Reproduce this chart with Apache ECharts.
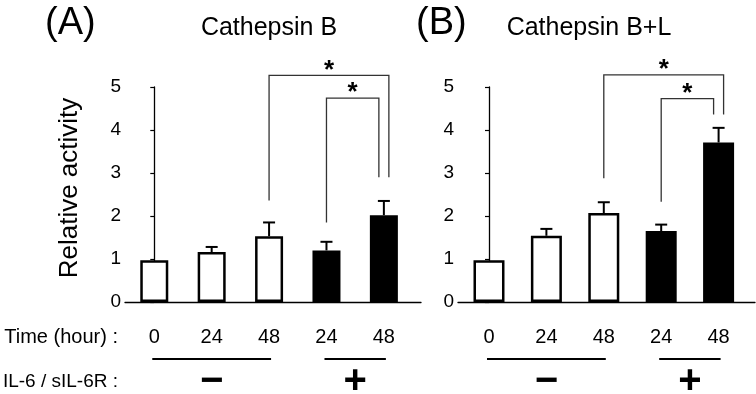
<!DOCTYPE html>
<html><head><meta charset="utf-8">
<script src="https://cdn.jsdelivr.net/npm/echarts@6/dist/echarts.min.js"></script>
<style>html,body{margin:0;padding:0;background:#fff}#c{width:756px;height:394px}</style>
</head><body><div id="c"></div>
<script>
// ---------- data ----------
const timeLabels = ['0', '24', '48', '24', '48'];
const treatment  = ['−', '−', '−', '+', '+'];
const panelLetters = ['(A)', '(B)'];
const panelTitles  = ['Cathepsin B', 'Cathepsin B+L'];
const yAxisTitle = 'Relative activity';
const rowTitles = ['Time (hour) :', 'IL-6 / sIL-6R :'];

const meanA = [0.97, 1.16, 1.53, 1.20, 2.02];
const errA  = [0,    0.12, 0.32, 0.20, 0.33];
const meanB = [0.97, 1.54, 2.07, 1.65, 3.71];
const errB  = [0,    0.16, 0.25, 0.15, 0.34];

// significance brackets: [left bar, right bar, left foot, right foot, top]
const bracketsA = [[2, 4, 2.36, 2.90, 5.27], [3, 4, 1.85, 2.90, 4.74]];
const bracketsB = [[2, 4, 2.88, 4.36, 5.28], [3, 4, 2.33, 4.36, 4.73]];
const bracketMark = '*';

// ---------- layout / style ----------
const FONT = "'Liberation Sans', Arial, sans-serif";
const bracketRightShift = [5, -5];
const panels = [
  {mean: meanA, err: errA, brackets: bracketsA, left: 125, width: 296, xmin: -0.51, barW: 28},
  {mean: meanB, err: errB, brackets: bracketsB, left: 458, width: 297, xmin: -0.54, barW: 31}
];
const unitPx = 57.4;

function groups() {
  const g = [];
  treatment.forEach((t, i) => {
    if (g.length && g[g.length - 1][2] === t) g[g.length - 1][1] = i;
    else g.push([i, i, t]);
  });
  return g;
}

const grid = [], xAxis = [], yAxis = [], series = [];
panels.forEach((p, k) => {
  grid.push({left: p.left, top: 87, width: p.width, height: 215});
  xAxis.push({
    type: 'value', gridIndex: k, min: p.xmin, max: p.xmin + p.width / unitPx,
    axisLine: {show: true, lineStyle: {color: '#000', width: 1.3}},
    axisTick: {show: false}, axisLabel: {show: false}, splitLine: {show: false}
  });
  yAxis.push({
    type: 'value', gridIndex: k, min: 0, max: 5, interval: 1,
    axisLine: {show: true, lineStyle: {color: '#000', width: 1.3}},
    axisTick: {show: true, inside: false, length: 4, lineStyle: {color: '#000', width: 1.2}},
    axisLabel: {color: '#000', fontSize: 19, fontFamily: FONT, margin: 4},
    splitLine: {show: false}
  });
  series.push({
    type: 'bar', xAxisIndex: k, yAxisIndex: k, barWidth: p.barW, silent: true,
    data: p.mean.map((v, i) => ({
      value: [i, v],
      itemStyle: {color: treatment[i] === '+' ? '#000' : '#fff', borderColor: '#000', borderWidth: 2.5}
    }))
  });
  series.push({
    type: 'custom', xAxisIndex: k, yAxisIndex: k, silent: true, z: 5,
    data: p.mean.map((v, i) => [i, v, p.err[i]]),
    renderItem: (params, api) => {
      const x = api.value(0), m = api.value(1), e = api.value(2);
      if (!e) return null;
      const a = api.coord([x, m]), b = api.coord([x, m + e]);
      return {type: 'group', children: [
        {type: 'line', shape: {x1: a[0], y1: a[1], x2: b[0], y2: b[1]}, style: {stroke: '#000', lineWidth: 2}},
        {type: 'line', shape: {x1: b[0] - 6, y1: b[1], x2: b[0] + 6, y2: b[1]}, style: {stroke: '#000', lineWidth: 2}}
      ]};
    }
  });
  series.push({
    type: 'custom', xAxisIndex: k, yAxisIndex: k, silent: true, clip: false, z: 6,
    data: p.brackets,
    renderItem: (params, api) => {
      const l = api.value(0), r = api.value(1);
      const L = api.coord([l, api.value(2)]);
      const R = api.coord([r, api.value(3)]);
      const T = api.coord([l, api.value(4)])[1];
      const xr = R[0] + bracketRightShift[params.dataIndex];
      return {type: 'group', children: [
        {type: 'polyline', shape: {points: [[L[0], L[1]], [L[0], T], [xr, T], [xr, R[1]]]},
         style: {stroke: '#333', lineWidth: 1.3, fill: null}},
        {type: 'text', style: {x: (L[0] + xr) / 2, y: T - 5, text: bracketMark, fill: '#000',
          font: 'bold 26px ' + FONT, textAlign: 'center', textVerticalAlign: 'middle'}}
      ]};
    }
  });
  series.push({
    type: 'custom', xAxisIndex: k, yAxisIndex: k, silent: true, clip: false,
    data: timeLabels.map((t, i) => [i, 0]),
    renderItem: (params, api) => {
      const c = api.coord([api.value(0), 0]);
      return {type: 'text', style: {x: c[0], y: c[1] + 35, text: timeLabels[params.dataIndex], fill: '#000',
        font: '20px ' + FONT, textAlign: 'center', textVerticalAlign: 'middle'}};
    }
  });
  const gs = groups();
  series.push({
    type: 'custom', xAxisIndex: k, yAxisIndex: k, silent: true, clip: false,
    data: gs.map(g => [g[0], g[1]]),
    renderItem: (params, api) => {
      const a = api.coord([api.value(0), 0]), b = api.coord([api.value(1), 0]);
      const x1 = a[0] - 2, x2 = b[0] + 2, y = a[1] + 57;
      return {type: 'group', children: [
        {type: 'line', shape: {x1: x1, y1: y, x2: x2, y2: y}, style: {stroke: '#000', lineWidth: 2}},
        {type: 'text', style: {x: (x1 + x2) / 2, y: y + 23, text: gs[params.dataIndex][2], fill: '#000',
          font: 'bold 40px ' + FONT, textAlign: 'center', textVerticalAlign: 'middle'}}
      ]};
    }
  });
});

const graphic = [
  {type: 'text', left: 45, top: 5, style: {text: panelLetters[0], font: '38px ' + FONT, fill: '#000'}},
  {type: 'text', left: 416, top: 5, style: {text: panelLetters[1], font: '38px ' + FONT, fill: '#000'}},
  {type: 'text', x: 269, y: 28, style: {text: panelTitles[0], font: '25px ' + FONT, fill: '#000', textAlign: 'center', textVerticalAlign: 'middle'}},
  {type: 'text', x: 589, y: 28, style: {text: panelTitles[1], font: '25px ' + FONT, fill: '#000', textAlign: 'center', textVerticalAlign: 'middle'}},
  {type: 'text', x: 70, y: 188, rotation: Math.PI / 2, style: {text: yAxisTitle, font: '26px ' + FONT, fill: '#000', textAlign: 'center', textVerticalAlign: 'middle'}},
  {type: 'text', x: 118, y: 337, style: {text: rowTitles[0], font: '20px ' + FONT, fill: '#000', textAlign: 'right', textVerticalAlign: 'middle'}},
  {type: 'text', x: 118, y: 382, style: {text: rowTitles[1], font: '19px ' + FONT, fill: '#000', textAlign: 'right', textVerticalAlign: 'middle'}}
];

const chart = echarts.init(document.getElementById('c'), null, {renderer: 'canvas'});
chart.setOption({animation: false, backgroundColor: '#fff', grid, xAxis, yAxis, series, graphic});
</script>
</body></html>
